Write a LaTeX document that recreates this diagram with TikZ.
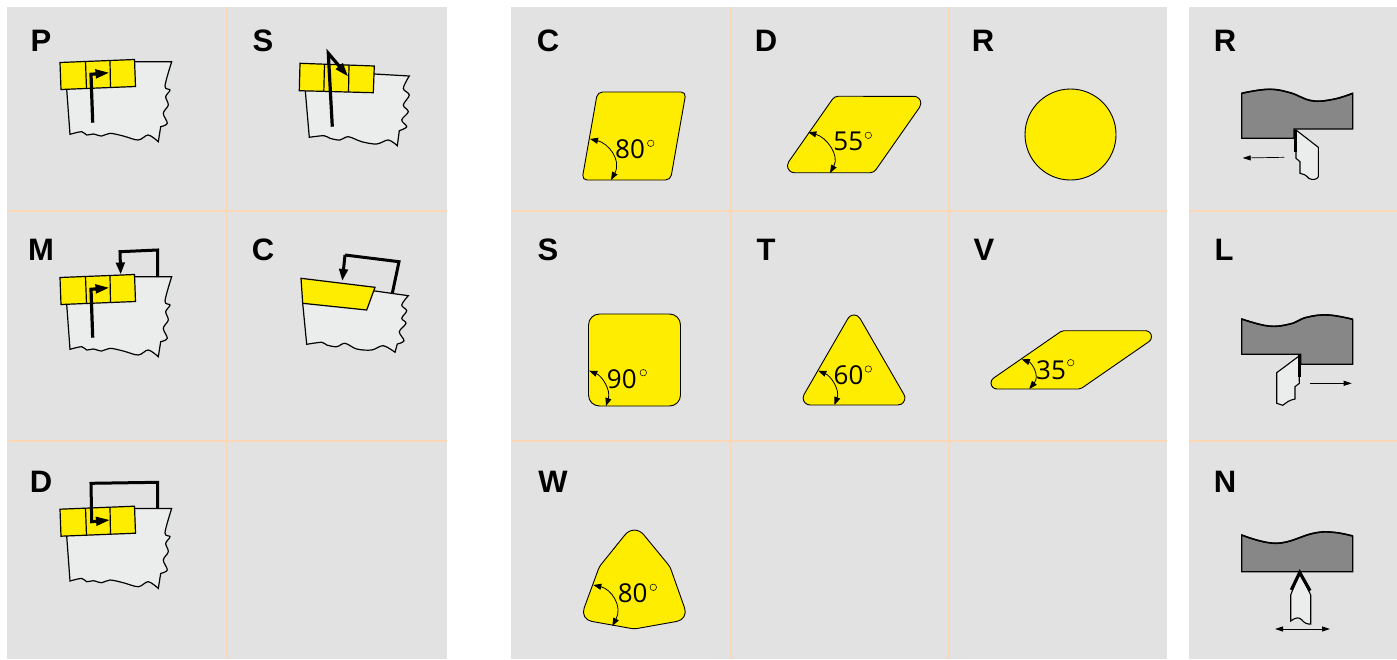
\documentclass[tikz,border=0pt]{standalone}
\usepackage{fontspec}
\setmainfont{Liberation Sans}
\newfontfamily\anglefont{Open Sans}
\usetikzlibrary{arrows.meta}
\definecolor{panelgray}{HTML}{E2E2E2}
\definecolor{peach}{HTML}{FBD7B5}
\definecolor{insert}{HTML}{FFED00}
\definecolor{pale}{HTML}{EBECEC}
\definecolor{stock}{HTML}{878787}
\tikzset{
  panel/.style={fill=panelgray,draw=none},
  gridline/.style={draw=peach,line width=2.6pt},
  letter/.style={font=\bfseries\fontsize{31}{31}\selectfont,inner sep=0pt,text=black},
  deg/.style={font=\anglefont\fontsize{26}{26}\selectfont,inner sep=0pt,text=black},
  degmark/.style={draw=black,line width=0.5pt,circle,minimum size=6.5pt,inner sep=0pt},
  blade/.style={fill=insert,draw=black,line width=1.2pt},
  workpiece/.style={fill=pale,draw=black,line width=1.2pt},
  plate/.style={fill=insert,draw=black,line width=0.9pt},
  sweep/.style={draw=black,line width=0.8pt,{Triangle[length=8pt,width=6pt]}-{Triangle[length=8pt,width=6pt]}},
  feed/.style={draw=black,line width=3.2pt,-{Triangle[length=14pt,width=8.5pt]}},
  loopline/.style={draw=black,line width=3pt},
  bar/.style={fill=stock,draw=black,line width=1.2pt},
  barwave/.style={draw=black,line width=1.6pt},
  tool/.style={fill=pale,draw=black,line width=1.1pt},
  edgeline/.style={draw=black,line width=3.2pt},
  travel/.style={draw=black,line width=0.7pt},
  thead/.style={-{Triangle[length=8pt,width=5pt]}},
  bhead/.style={{Triangle[length=8pt,width=5pt]}-{Triangle[length=8pt,width=5pt]}}
}
% workpiece of the P / M / D sketches, at the P position
\newcommand{\plainpiece}{%
  \path[workpiece] (134.5,61.7) -- (171.7,61.7)
    -- plot[smooth,tension=0.55] coordinates {(171.7,61.7)(165,86)(170,90)(165.7,96.7)(168.3,105)(163.3,113.3)(167.3,123.3)(160.7,126.7)}
    -- (158.3,141.7)
    -- plot[smooth,tension=0.55] coordinates {(158.3,141.7)(148.3,135)(138.3,140)(123.3,136)(110,133.3)(101.7,136)(93.3,134)(86.7,135)(81.7,131.7)(70,134.3)}
    -- (66.7,89.3) -- cycle;
}
\newcommand{\stripe}{%
  \path[blade] (60,62.5) -- (134.5,59.5) -- (135.5,86.5) -- (61,89.5) -- cycle;
  \draw[black,line width=1.2pt] (85.5,61.5) -- (86.5,88.5) (110,60.5) -- (110.5,87.5);
}
\newcommand{\riser}{%
  \draw[feed] (92.7,122.7) -- (91,74.3) -- (109.5,72.7);
}
\begin{document}
\begin{tikzpicture}[x=1pt,y=-1pt]
\useasboundingbox (0,0) rectangle (1397,659);
% panels
\path[panel] (7,7) rectangle (447,659);
\path[panel] (511,7) rectangle (1167,659);
\path[panel] (1189,7) rectangle (1397,659);
\draw[gridline] (227,7) -- (227,659) (7,211) -- (447,211) (7,441) -- (447,441);
\draw[gridline] (731,7) -- (731,659) (949,7) -- (949,659) (511,211) -- (1167,211) (511,441) -- (1167,441);
\draw[gridline] (1189,211) -- (1397,211) (1189,441) -- (1397,441);
% letters
\node[letter] (lp) at (41,41) {P};
\node[letter] (ls) at (263,41) {S};
\node[letter] (lm) at (41,249.5) {M};
\node[letter] (lc) at (263,249.5) {C};
\node[letter] (ld) at (41,482) {D};
\node[letter] (mc) at (548,41) {C};
\node[letter] (md) at (766,41) {D};
\node[letter] (mr) at (983,41) {R};
\node[letter] (ms) at (548,249.5) {S};
\node[letter] (mt) at (766,249.5) {T};
\node[letter] (mv) at (984,249.5) {V};
\node[letter] (mw) at (553,482) {W};
\node[letter] (rr) at (1225,41) {R};
\node[letter] (rl) at (1224,249.5) {L};
\node[letter] (rn) at (1225,482) {N};
% P
\plainpiece \stripe \riser
% M
\begin{scope}[yshift=-215pt]
\plainpiece \stripe \riser
\end{scope}
\draw[loopline,-{Triangle[length=12pt,width=8.5pt]}] (157.7,277) -- (157.7,250) -- (120,251.7) -- (120.7,274.5);
% D
\begin{scope}[yshift=-446.7pt]
\plainpiece \stripe
\end{scope}
\draw[loopline,-{Triangle[length=14pt,width=8.5pt]}] (157.7,508.5) -- (157.7,482.3) -- (91,483.3) -- (91.7,521.7) -- (110,520);
% S
\path[workpiece] (374.3,74) -- (409.3,76)
  -- plot[smooth,tension=0.55] coordinates {(409.3,76)(403.3,88.3)(409.3,95)(403.3,105)(408.3,111.7)(401.7,120)(406.7,126.7)(399.3,130.7)}
  -- (397.3,145.7)
  -- plot[smooth,tension=0.55] coordinates {(397.3,145.7)(388.3,140)(376.7,144)(361.7,141.7)(348.3,136.7)(340,140)(330,138.3)(324,135.7)(309.3,137.3)}
  -- (305.3,90.7) -- cycle;
\path[blade] (300,63.3) -- (374.3,66) -- (373.3,92.7) -- (299.3,90.7) -- cycle;
\draw[black,line width=1.2pt] (324.5,64.2) -- (323.8,91.4) (349,65.1) -- (348.5,92);
\draw[feed] (332.3,126.7) -- (328.3,53.3) -- (348.3,76.7);
% C
\path[workpiece] (375,291) -- (408.3,295.7)
  -- plot[smooth,tension=0.55] coordinates {(408.3,295.7)(401.7,305)(406.7,310.7)(401.7,318.3)(406,323.3)(399.3,331.7)(404,340.7)(397.3,344)}
  -- (395,352.3)
  -- plot[smooth,tension=0.55] coordinates {(395,352.3)(383.3,345.7)(371.7,350)(356.7,349)(345,343.3)(336.7,346.7)(326.7,345)(321.7,342.3)(306.7,344.3)}
  -- (302.7,303.3) -- cycle;
\path[blade] (301,278.3) -- (375,287.3) -- (366.7,310) -- (302.7,303.3) -- cycle;
\draw[loopline] (392.3,293.3) -- (399,261.7) -- (345,255);
\draw[loopline,-{Triangle[length=12pt,width=8.5pt]}] (345,255) -- (342.3,281);
% C plate
\path[plate,rounded corners=5pt] (597.5,92) -- (686,92) -- (670.5,180) -- (582,180) -- cycle;
\draw[sweep] (590,139) .. controls (608,143) and (622,160) .. (611,180);
\node[deg] (a80) at (630,149) {80};
\node[degmark] (a80d) at (650.7,143.3) {};
% D plate
\path[plate] (913.85,96.3) arc[start angle=90,end angle=-35,radius=7pt]
  -- (875.89,169.72) arc[start angle=-35,end angle=-90,radius=7pt]
  -- (794.45,172.7) arc[start angle=-90,end angle=-215,radius=7pt]
  -- (832.41,99.28) arc[start angle=-215,end angle=-270,radius=7pt] -- cycle;
\draw[sweep] (808.3,132.3) .. controls (826,137) and (840,155) .. (830,173);
\node[deg] (a55) at (848.3,141.7) {55};
\node[degmark] (a55d) at (868.3,135.3) {};
% R plate
\path[plate] (1070.5,134.5) circle[radius=45.5pt];
% S plate
\path[plate,rounded corners=11pt] (588.5,314) -- (680.5,314) -- (680.5,406) -- (588.5,406) -- cycle;
\draw[sweep] (589.3,370.7) .. controls (602,376) and (611,390) .. (606,406);
\node[deg] (a90) at (621.8,379.3) {90};
\node[degmark] (a90d) at (643.3,372.7) {};
% T plate
\path[plate] (847.94,318.5) arc[start angle=150,end angle=30,radius=7pt]
  -- (903.96,394.5) arc[start angle=30,end angle=-90,radius=7pt]
  -- (810.1,405) arc[start angle=-90,end angle=-210,radius=7pt] -- cycle;
\draw[sweep] (818.3,370.7) .. controls (831,376) and (840,390) .. (834.5,405);
\node[deg] (a60) at (848.6,375) {60};
\node[degmark] (a60d) at (868.3,369) {};
% V plate
\path[plate] (1145.5,330.7) arc[start angle=90,end angle=-55,radius=6pt]
  -- (1082.06,387.9) arc[start angle=-55,end angle=-90,radius=6pt]
  -- (997,389) arc[start angle=-90,end angle=-235,radius=6pt]
  -- (1060.44,331.79) arc[start angle=-235,end angle=-270,radius=6pt] -- cycle;
\draw[sweep] (1021.7,359.3) .. controls (1032,363) and (1040,376) .. (1029.3,389);
\node[deg] (a35) at (1051,370) {35};
\node[degmark] (a35d) at (1070.7,362.7) {};
% W plate
\path[plate] (612,625) [rounded corners=12pt] -- (580,619.3) [rounded corners=3pt] -- (599.3,566.7) [rounded corners=15pt] -- (634.3,523.3) [rounded corners=3pt] -- (670,566.7) [rounded corners=12pt] -- (688.6,619.3) [rounded corners=3pt] -- (634.3,629) [sharp corners] -- cycle;
\draw[sweep] (593.3,585) .. controls (611,589) and (623,606) .. (612.3,626);
\node[deg] (w80) at (632.7,593.3) {80};
\node[degmark] (w80d) at (653.3,587.3) {};
% right R
\path[bar] (1241.7,93.3) -- plot[smooth,tension=0.7] coordinates {(1241.7,93.3)(1268.3,89.3)(1290,92.7)(1311.7,100.7)(1333.3,99.3)(1352.7,93.3)} -- (1352.7,129) -- (1294,129) -- (1294,138.3) -- (1241.7,138.3) -- cycle;
\draw[barwave] plot[smooth,tension=0.7] coordinates {(1241.7,93.3)(1268.3,89.3)(1290,92.7)(1311.7,100.7)(1333.3,99.3)(1352.7,93.3)};
\path[tool] (1296,130) -- (1318.3,147.3) -- (1318.3,176.7) .. controls (1317,180) and (1312,180) .. (1309,178.5) .. controls (1306,175) and (1303,173.5) .. (1300,173.3) -- (1300,161.7) -- (1296,158.3) -- cycle;
\draw[edgeline] (1295.3,129.5) -- (1295.3,152);
\draw[travel,thead] (1284.3,157.3) -- (1242.7,158);
% right L
\path[bar] (1241.7,319) -- plot[smooth,tension=0.7] coordinates {(1241.7,319)(1268.3,326)(1290,324)(1306.7,317.3)(1328.3,315)(1352.7,319.3)} -- (1352.7,364.3) -- (1300.7,364.3) -- (1300.7,354.3) -- (1241.7,354.3) -- cycle;
\draw[barwave] plot[smooth,tension=0.7] coordinates {(1241.7,319)(1268.3,326)(1290,324)(1306.7,317.3)(1328.3,315)(1352.7,319.3)};
\path[tool] (1299,356) -- (1276.7,372.7) -- (1276.7,403.3) -- (1282.7,405.3) .. controls (1286,403) and (1289,400) .. (1295,399) -- (1295,386.7) -- (1299.3,383.3) -- cycle;
\draw[edgeline] (1299.7,354.5) -- (1299.7,377.3);
\draw[travel,thead] (1310.3,383.3) -- (1351.7,383.3);
% right N
\path[bar] (1241.7,535) -- plot[smooth,tension=0.7] coordinates {(1241.7,535)(1276.7,543.3)(1313.3,533.3)(1333.3,532.3)(1352.7,536)} -- (1352.7,571.7) -- (1241.7,571.7) -- cycle;
\draw[barwave] plot[smooth,tension=0.7] coordinates {(1241.7,535)(1276.7,543.3)(1313.3,533.3)(1333.3,532.3)(1352.7,536)};
\path[tool] (1299.7,571.7) -- (1290.7,595) -- (1290.7,621) .. controls (1296,617) and (1299,617) .. (1302,620) .. controls (1304,623) and (1308,624.5) .. (1310.7,624) -- (1310.7,595) -- cycle;
\draw[edgeline,line join=miter] (1291.3,590) -- (1299.7,572.5) -- (1310,590.7);
\draw[travel,line width=1pt,bhead] (1275,629) -- (1330,629);
\end{tikzpicture}
\end{document}
